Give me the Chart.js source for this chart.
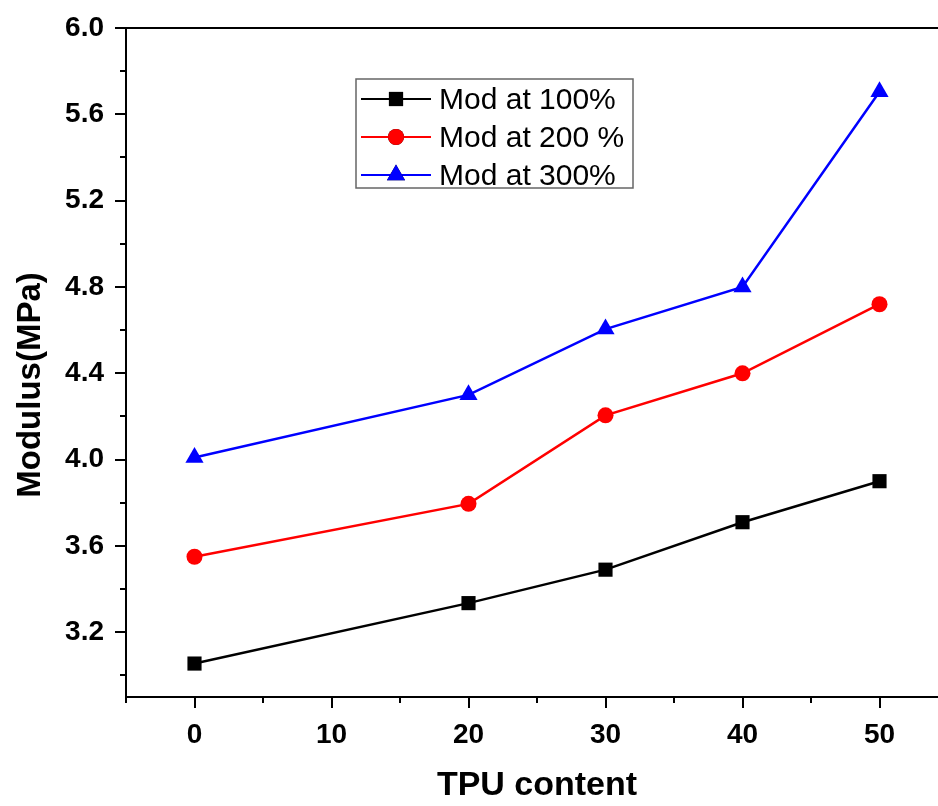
<!DOCTYPE html>
<html>
<head>
<meta charset="utf-8">
<script src="https://cdn.jsdelivr.net/npm/chart.js@4"></script>
<style>
  html, body { margin: 0; padding: 0; background: #fff; overflow: hidden; }
  #wrap { width: 960px; height: 806px; }
</style>
</head>
<body>
<div id="wrap"><canvas id="chart" width="960" height="806"></canvas></div>
<script>
// data
const tpuContent = [0, 20, 30, 40, 50];
const mod100 = [3.055, 3.335, 3.49, 3.71, 3.9];
const mod200 = [3.55, 3.795, 4.205, 4.4, 4.72];
const mod300 = [4.01, 4.3, 4.605, 4.8, 5.705];
const seriesNames = ["Mod at 100%", "Mod at 200 %", "Mod at 300%"];
const xTicks = [0, 10, 20, 30, 40, 50];
const xMinorTicks = [-5, 5, 15, 25, 35, 45, 55];
const yTicks = [3.2, 3.6, 4.0, 4.4, 4.8, 5.2, 5.6, 6.0];
const yMinorTicks = [3.0, 3.4, 3.8, 4.2, 4.6, 5.0, 5.4, 5.8];

const toPoints = (ys) => tpuContent.map((x, i) => ({ x: x, y: ys[i] }));

// frame, ticks, axis titles and legend box
const framePlugin = {
  id: "frame",
  afterDraw(chart) {
    const ctx = chart.ctx;
    const a = chart.chartArea;
    const xs = chart.scales.x;
    const ys = chart.scales.y;
    ctx.save();
    ctx.strokeStyle = "#000";
    ctx.lineWidth = 2;
    ctx.strokeRect(a.left, a.top, a.right - a.left, a.bottom - a.top);

    ctx.beginPath();
    xTicks.forEach((v) => {
      const px = Math.round(xs.getPixelForValue(v));
      ctx.moveTo(px, a.bottom);
      ctx.lineTo(px, a.bottom + 11);
    });
    xMinorTicks.forEach((v) => {
      const px = Math.round(xs.getPixelForValue(v));
      ctx.moveTo(px, a.bottom);
      ctx.lineTo(px, a.bottom + 6);
    });
    yTicks.forEach((v) => {
      const py = Math.round(ys.getPixelForValue(v));
      ctx.moveTo(a.left, py);
      ctx.lineTo(a.left - 11, py);
    });
    yMinorTicks.forEach((v) => {
      const py = Math.round(ys.getPixelForValue(v));
      ctx.moveTo(a.left, py);
      ctx.lineTo(a.left - 6, py);
    });
    ctx.stroke();

    // y title
    ctx.fillStyle = "#000";
    ctx.font = "bold 33px 'Liberation Sans', Arial, sans-serif";
    ctx.textAlign = "center";
    ctx.textBaseline = "middle";
    ctx.translate(31, 385);
    ctx.rotate(-Math.PI / 2);
    ctx.fillText("Modulus(MPa)", 0, 0);
    ctx.restore();

    // legend
    ctx.save();
    ctx.strokeStyle = "#666";
    ctx.lineWidth = 1.5;
    ctx.strokeRect(356, 79, 277, 109);
    ctx.font = "30px 'Liberation Sans', Arial, sans-serif";
    ctx.textBaseline = "middle";
    ctx.textAlign = "left";
    chart.data.datasets.forEach((ds, i) => {
      const cy = 99 + i * 38;
      ctx.strokeStyle = ds.borderColor;
      ctx.lineWidth = 2;
      ctx.beginPath();
      ctx.moveTo(361, cy);
      ctx.lineTo(431, cy);
      ctx.stroke();
      Chart.helpers.drawPoint(ctx, {
        pointStyle: ds.pointStyle,
        radius: ds.pointRadius,
        borderWidth: 0
      }, 396, cy);
      ctx.fillStyle = ds.backgroundColor;
      ctx.fill();
      ctx.fillStyle = "#000";
      ctx.fillText(ds.label, 439, cy + 2);
    });
    ctx.restore();
  }
};

new Chart(document.getElementById("chart"), {
  type: "scatter",
  plugins: [framePlugin],
  data: {
    datasets: [
      {
        label: seriesNames[0],
        data: toPoints(mod100),
        showLine: true,
        borderColor: "#000000",
        backgroundColor: "#000000",
        borderWidth: 2.5,
        pointStyle: "rect",
        pointRadius: 10,
        pointBorderWidth: 0
      },
      {
        label: seriesNames[1],
        data: toPoints(mod200),
        showLine: true,
        borderColor: "#ff0000",
        backgroundColor: "#ff0000",
        borderWidth: 2.5,
        pointStyle: "circle",
        pointRadius: 8,
        pointBorderWidth: 0
      },
      {
        label: seriesNames[2],
        data: toPoints(mod300),
        showLine: true,
        borderColor: "#0000ff",
        backgroundColor: "#0000ff",
        borderWidth: 2.5,
        pointStyle: "triangle",
        pointRadius: 10.5,
        pointBorderWidth: 0
      }
    ]
  },
  options: {
    responsive: false,
    animation: false,
    layout: {
      padding: { top: 28, right: 12, left: 0, bottom: 0 }
    },
    plugins: {
      legend: { display: false },
      tooltip: { enabled: false }
    },
    scales: {
      x: {
        type: "linear",
        min: -5,
        max: 55,
        afterBuildTicks: (scale) => {
          scale.ticks = xTicks.map((v) => ({ value: v }));
        },
        afterFit: (scale) => {
          scale.height = 109;
          scale.paddingLeft = 0;
          scale.paddingRight = 0;
        },
        grid: { display: false },
        border: { display: false },
        ticks: {
          color: "#000",
          padding: 13,
          font: { family: "'Liberation Sans', Arial, sans-serif", size: 28, weight: "bold" }
        },
        title: {
          display: true,
          text: "TPU content",
          color: "#000",
          padding: { top: 14, bottom: 0 },
          font: { family: "'Liberation Sans', Arial, sans-serif", size: 34, weight: "bold" }
        }
      },
      y: {
        type: "linear",
        min: 2.9,
        max: 6.0,
        afterBuildTicks: (scale) => {
          scale.ticks = yTicks.map((v) => ({ value: v }));
        },
        afterFit: (scale) => {
          scale.width = 126;
          scale.paddingTop = 0;
          scale.paddingBottom = 0;
        },
        grid: { display: false },
        border: { display: false },
        ticks: {
          color: "#000",
          padding: 14,
          callback: (v) => Number(v).toFixed(1),
          font: { family: "'Liberation Sans', Arial, sans-serif", size: 28, weight: "bold" }
        }
      }
    }
  }
});
</script>
</body>
</html>
